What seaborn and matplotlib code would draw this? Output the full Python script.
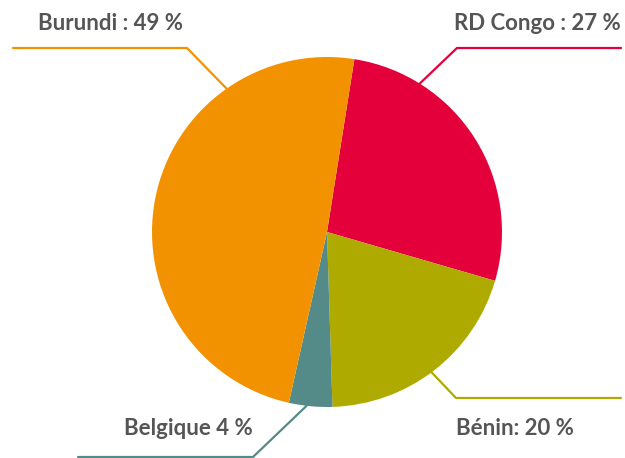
import numpy as np
import matplotlib
matplotlib.use("Agg")
import matplotlib.pyplot as plt
import seaborn as sns

# data
countries = ["RD Congo", "Bénin", "Belgique", "Burundi"]
shares = [27, 20, 4, 49]
labels = ["RD Congo : 27 %", "Bénin: 20 %", "Belgique 4 %", "Burundi : 49 %"]
colors = ["#E4003A", "#AFAA00", "#548A87", "#F39200"]

sns.set_style("white")
plt.rcParams["font.family"] = ["Lato", "DejaVu Sans"]

W, H = 625, 458
fig = plt.figure(figsize=(W / 100, H / 100), dpi=100)
ax = fig.add_axes([0, 0, 1, 1])

cx, cy, r = 327, H - 232, 175
ax.pie(shares, colors=colors, startangle=81, counterclock=False,
       center=(cx, cy), radius=r, frame=True,
       wedgeprops=dict(linewidth=0))
ax.set_xlim(0, W)
ax.set_ylim(0, H)
ax.set_aspect("equal")
ax.axis("off")

# leader lines: attach angle (clockwise from top), elbow point, end x
attach = [32, 143.3, 186.7, 325]
elbow = [(457, H - 48), (456, H - 398), (253, H - 457), (187, H - 48)]
end_x = [621, 621, 78, 13]
text_pos = [(621, H - 30, "right"), (456, H - 435, "left"),
            (253, H - 435, "right"), (183, H - 30, "right")]

for a, e, ex, tp, lab, c in zip(attach, elbow, end_x, text_pos, labels, colors):
    t = np.deg2rad(a)
    px, py = cx + r * np.sin(t), cy + r * np.cos(t)
    ax.plot([px, e[0], ex], [py, e[1], e[1]], color=c, lw=1.6,
            solid_joinstyle="miter", clip_on=False)
    ax.text(tp[0], tp[1], lab, ha=tp[2], va="baseline", fontsize=16,
            fontweight="bold", color="#555555")

fig.savefig("out.png", dpi=100)
